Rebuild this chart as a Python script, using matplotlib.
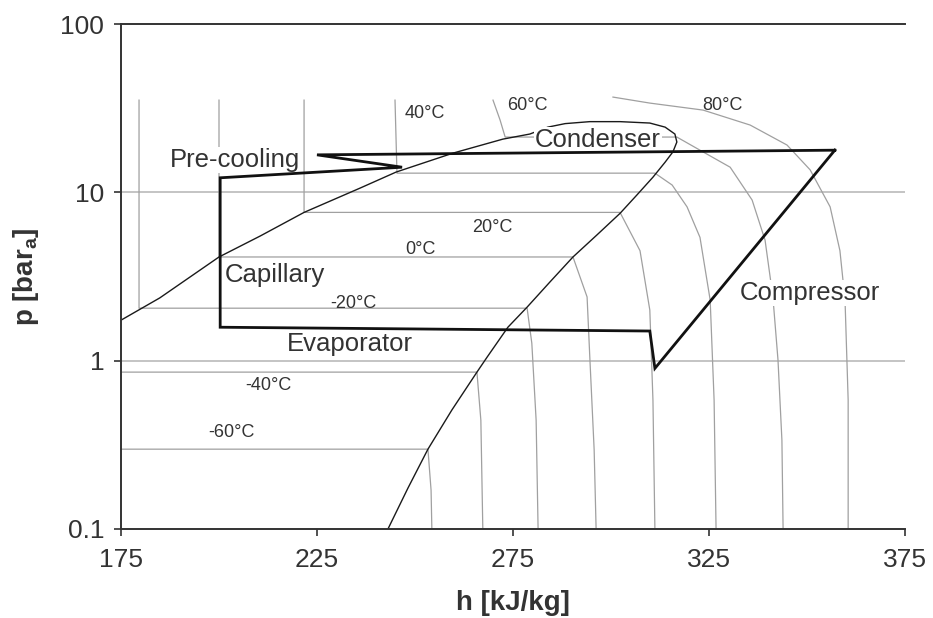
import matplotlib
matplotlib.use("Agg")
import matplotlib.pyplot as plt
from matplotlib.ticker import FixedLocator, NullLocator

plt.rcParams['font.family'] = ['Liberation Sans', 'DejaVu Sans']
plt.rcParams['mathtext.fontset'] = 'custom'
plt.rcParams['mathtext.rm'] = 'Liberation Sans'
plt.rcParams['mathtext.bf'] = 'Liberation Sans:bold'

# ---------------- data (h in kJ/kg, p in bar) ----------------
# saturation dome
dome_h = [175.0, 184.9, 200.0, 210.5, 221.7, 236.0, 245.2, 259.7, 272.4, 279.3, 283.9,
          288.3, 294.6, 302.3, 309.9, 313.8, 316.3, 316.8, 315.8, 313.8, 310.7, 306.6,
          302.3, 296.4, 290.3, 284.4, 278.6, 273.7, 268.4, 265.8, 259.4, 253.3, 248.2, 243.1]
dome_p = [1.74, 2.36, 4.13, 5.5, 7.6, 10.6, 13.2, 17.1, 20.7, 22.2, 24.4,
          25.6, 26.3, 26.3, 25.8, 24.4, 22.2, 19.9, 17.4, 15.1, 12.3, 9.64,
          7.5, 5.58, 4.13, 2.93, 2.08, 1.58, 1.05, 0.855, 0.509, 0.298, 0.175, 0.1]

# isotherms
iso_m60_h = [175.0, 253.3, 254.1, 254.3]
iso_m60_p = [0.298, 0.298, 0.170, 0.1]
iso_m40_h = [175.0, 265.8, 266.8, 267.3]
iso_m40_p = [0.855, 0.855, 0.443, 0.1]
iso_m20_h = [179.6, 179.6, 278.6, 279.8, 280.9, 281.4]
iso_m20_p = [35.3, 2.05, 2.05, 1.27, 0.443, 0.1]
iso_0_h = [200.0, 200.0, 290.3, 293.9, 294.6, 295.7, 296.2]
iso_0_p = [35.3, 4.13, 4.13, 2.39, 1.04, 0.296, 0.1]
iso_20_h = [221.7, 221.7, 302.3, 307.4, 309.9, 310.7, 311.2]
iso_20_p = [35.3, 7.6, 7.6, 4.5, 2.0, 0.583, 0.1]
iso_40_h = [244.9, 245.4, 311.2, 315.6, 319.4, 322.7, 325.3, 326.3, 326.8]
iso_40_p = [35.3, 13.0, 13.0, 11.05, 8.2, 5.4, 2.29, 0.583, 0.1]
iso_60_h = [269.9, 271.7, 273.0, 316.8, 322.7, 330.4, 336.0, 339.3, 341.3, 342.6, 343.6, 343.9]
iso_60_p = [35.3, 26.9, 21.3, 21.3, 17.8, 14.1, 9.0, 5.2, 2.39, 1.01, 0.337, 0.1]
iso_80_h = [300.5, 309.9, 323.5, 335.5, 344.9, 350.8, 355.9, 358.4, 359.7, 360.5, 360.5]
iso_80_p = [36.8, 33.9, 30.8, 25.1, 19.1, 13.6, 8.2, 4.5, 2.29, 0.583, 0.1]

# refrigeration cycle
cycle_h = [357.1, 225.0, 246.7, 200.3, 200.3, 309.9, 311.2, 357.1]
cycle_p = [17.8, 16.7, 14.1, 12.2, 1.58, 1.50, 0.90, 17.8]

# labels
temp_labels = ['40\u00b0C', '60\u00b0C', '80\u00b0C', '20\u00b0C', '0\u00b0C', '-20\u00b0C', '-40\u00b0C', '-60\u00b0C']
temp_label_h = [247.4, 273.5, 323.2, 264.5, 247.4, 228.3, 206.6, 197.2]
temp_label_p = [27.6, 30.8, 30.8, 5.8, 4.3, 2.05, 0.668, 0.351]

part_labels = ['Pre-cooling', 'Capillary', 'Evaporator', 'Condenser', 'Compressor']
part_label_h = [187.5, 201.5, 217.3, 280.6, 332.9]
part_label_p = [14.1, 2.93, 1.14, 18.6, 2.29]

x_ticks = [175, 225, 275, 325, 375]
y_ticks = [0.1, 1, 10, 100]
y_tick_labels = ['0.1', '1', '10', '100']

# ---------------- plotting ----------------
fig = plt.figure(figsize=(9.33, 6.18), dpi=100)
ax = fig.add_axes([121 / 933, 1 - 529 / 618, 784 / 933, 505 / 618])
ax.set_yscale('log')
ax.set_xlim(175, 375)
ax.set_ylim(0.1, 100)

txt_col = '#333333'
grid_col = '#b4b4b4'
iso_col = '#a0a0a0'

for v in [1, 10]:
    ax.axhline(v, color=grid_col, lw=1.1, zorder=1)

isos = [(iso_m60_h, iso_m60_p), (iso_m40_h, iso_m40_p), (iso_m20_h, iso_m20_p),
        (iso_0_h, iso_0_p), (iso_20_h, iso_20_p), (iso_40_h, iso_40_p),
        (iso_60_h, iso_60_p), (iso_80_h, iso_80_p)]
for hh, pp in isos:
    ax.plot(hh, pp, color=iso_col, lw=0.9, zorder=1.5, solid_joinstyle='round')

ax.plot(dome_h, dome_p, color='#1a1a1a', lw=1.0, zorder=2)
ax.plot(cycle_h, cycle_p, color='#111111', lw=2.0, zorder=5, solid_joinstyle='miter')

for t, h, p in zip(temp_labels, temp_label_h, temp_label_p):
    ax.text(h, p, t, fontsize=13, color=txt_col, ha='left', va='baseline', zorder=3)

for t, h, p in zip(part_labels, part_label_h, part_label_p):
    ax.text(h, p, t, fontsize=18.5, color=txt_col, ha='left', va='baseline', zorder=4,
            bbox=dict(boxstyle='square,pad=0.05', fc='white', ec='none'))

ax.xaxis.set_major_locator(FixedLocator(x_ticks))
ax.set_xticklabels([str(v) for v in x_ticks])
ax.yaxis.set_major_locator(FixedLocator(y_ticks))
ax.yaxis.set_minor_locator(NullLocator())
ax.set_yticklabels(y_tick_labels)

ax.tick_params(axis='both', direction='out', length=5, width=1.2, colors='#333333',
               labelsize=19, labelcolor=txt_col)
ax.tick_params(axis='x', pad=9)
ax.tick_params(axis='y', pad=7)

for s in ['left', 'bottom', 'top']:
    ax.spines[s].set_color('#333333')
    ax.spines[s].set_linewidth(1.4)
ax.spines['right'].set_visible(False)

ax.set_xlabel('h [kJ/kg]', fontsize=20, fontweight='bold', color=txt_col, labelpad=13)
ax.set_ylabel(r'p [bar$_{\mathbf{a}}$]', fontsize=20, fontweight='bold', color=txt_col, labelpad=14)

fig.savefig('out.png', dpi=100)
